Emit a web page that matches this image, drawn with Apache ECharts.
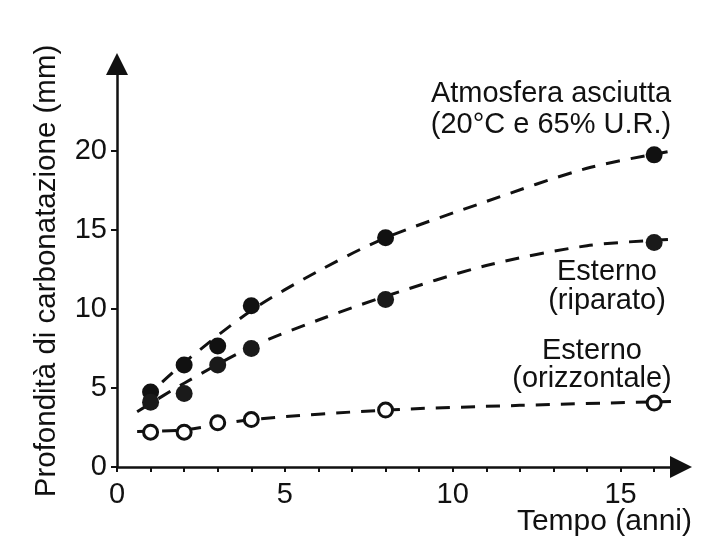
<!DOCTYPE html>
<html>
<head>
<meta charset="utf-8">
<script src="https://cdn.jsdelivr.net/npm/echarts@6/dist/echarts.min.js"></script>
<style>
  html, body { margin: 0; padding: 0; background: #fff; }
  #chart { width: 702px; height: 538px; }
</style>
</head>
<body>
<div id="chart"></div>
<script>
// ---- Data ----
const years = [1, 2, 3, 4, 8, 16];
const atmosferaAsciutta = [4.75, 6.45, 7.65, 10.2, 14.5, 19.75];
const esternoRiparato = [4.1, 4.65, 6.45, 7.5, 10.6, 14.2];
const esternoOrizzontale = [2.2, 2.2, 2.8, 3.0, 3.6, 4.05];

// dashed trend curves
const fitAtmX = [0.8, 2, 4, 6, 8, 11, 14, 16.4];
const fitAtmY = [4.3, 6.6, 9.9, 12.4, 14.5, 16.8, 18.9, 19.95];
const fitRipX = [0.6, 2, 4, 6, 8, 11, 14, 16.5];
const fitRipY = [3.5, 5.3, 7.6, 9.3, 10.8, 12.75, 14.0, 14.4];
const fitOrzX = [0.6, 2, 4, 8, 12, 16.5];
const fitOrzY = [2.25, 2.35, 3.0, 3.6, 3.9, 4.15];

const xTickValues = [0, 1, 2, 3, 4, 5, 6, 7, 8, 9, 10, 11, 12, 13, 14, 15, 16];
const xLabelValues = [0, 5, 10, 15];
const yTickValues = [0, 5, 10, 15, 20];

const xName = 'Tempo (anni)';
const yName = 'Profondità di carbonatazione (mm)';
const labelAtm = 'Atmosfera asciutta\n(20°C e 65% U.R.)';
const labelRip = 'Esterno\n(riparato)';
const labelOrz = 'Esterno\n(orizzontale)';

// ---- Chart ----
const FONT = '"Liberation Sans", Arial, Helvetica, sans-serif';
const INK = '#111111';
const pairs = (xs, ys) => xs.map((x, i) => [x, ys[i]]);

const chart = echarts.init(document.getElementById('chart'), null, { renderer: 'canvas' });

const dashStyle = { color: INK, width: 3, type: [14, 11] };
function fitSeries(xs, ys) {
  return {
    type: 'line', data: pairs(xs, ys), smooth: 0.3,
    symbol: 'none', lineStyle: dashStyle, z: 2, silent: true
  };
}

chart.setOption({
  animation: false,
  backgroundColor: '#ffffff',
  grid: { left: 117, right: 21, top: 64, bottom: 71, containLabel: false, outerBoundsMode: 'none' },
  xAxis: {
    type: 'value', min: 0, max: 16.8,
    name: xName, nameLocation: 'end', nameGap: 11, nameMoveOverlap: false,
    nameTextStyle: { fontFamily: FONT, fontSize: 30, color: INK, align: 'right', verticalAlign: 'top', padding: [40, 0, 0, 0] },
    axisLine: { show: true, onZero: false, symbol: ['none', 'triangle'], symbolSize: [22, 22], lineStyle: { color: INK, width: 2.5 } },
    axisTick: { show: true, inside: false, length: 5, customValues: xTickValues, lineStyle: { color: INK, width: 2 } },
    axisLabel: { customValues: xLabelValues, fontFamily: FONT, fontSize: 29, color: INK, margin: 13 },
    splitLine: { show: false }
  },
  yAxis: {
    type: 'value', min: 0, max: 25.5,
    name: yName, nameLocation: 'middle', nameGap: 55, nameRotate: 90, nameMoveOverlap: false,
    nameTextStyle: { fontFamily: FONT, fontSize: 29.5, color: INK, padding: [0, 11, 0, 0] },
    axisLine: { show: true, onZero: false, symbol: ['none', 'triangle'], symbolSize: [22, 22], lineStyle: { color: INK, width: 2.5 } },
    axisTick: { show: true, inside: false, length: 6, customValues: yTickValues, lineStyle: { color: INK, width: 2 } },
    axisLabel: { customValues: yTickValues, fontFamily: FONT, fontSize: 29, color: INK, margin: 10 },
    splitLine: { show: false }
  },
  series: [
    fitSeries(fitAtmX, fitAtmY),
    fitSeries(fitRipX, fitRipY),
    fitSeries(fitOrzX, fitOrzY),
    {
      name: 'Atmosfera asciutta', type: 'scatter', data: pairs(years, atmosferaAsciutta),
      symbol: 'circle', symbolSize: 17, itemStyle: { color: INK, opacity: 1 }, z: 5
    },
    {
      name: 'Esterno (riparato)', type: 'scatter', data: pairs(years, esternoRiparato),
      symbol: 'circle', symbolSize: 17, itemStyle: { color: '#1a1a1a', opacity: 1 }, z: 5
    },
    {
      name: 'Esterno (orizzontale)', type: 'scatter', data: pairs(years, esternoOrizzontale),
      symbol: 'circle', symbolSize: 14, itemStyle: { color: '#ffffff', borderColor: INK, borderWidth: 3, opacity: 1 }, z: 5
    }
  ],
  graphic: [
    { type: 'text', x: 551, y: 109.5, z: 10,
      style: { text: labelAtm, font: '29px ' + FONT, fill: INK, align: 'center', verticalAlign: 'middle', lineHeight: 31 } },
    { type: 'text', x: 607, y: 286.5, z: 10,
      style: { text: labelRip, font: '29px ' + FONT, fill: INK, align: 'center', verticalAlign: 'middle', lineHeight: 29 } },
    { type: 'text', x: 592, y: 365, z: 10,
      style: { text: labelOrz, font: '29px ' + FONT, fill: INK, align: 'center', verticalAlign: 'middle', lineHeight: 28 } }
  ]
});
</script>
</body>
</html>
